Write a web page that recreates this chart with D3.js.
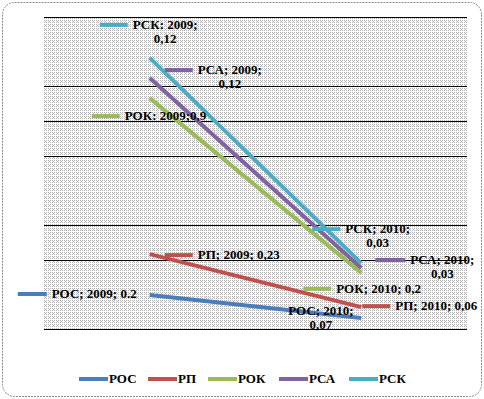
<!DOCTYPE html>
<html>
<head>
<meta charset="utf-8">
<script src="https://cdn.jsdelivr.net/npm/d3@7"></script>
<style>
  body { margin: 0; background: #fff; }
  svg { display: block; }
  text { font-family: "Liberation Serif", "DejaVu Serif", serif; font-weight: bold; font-size: 13px; fill: #000; }
</style>
</head>
<body>
<div id="chart"></div>
<script>
var w = 484;
var h = 399;

var years = ["2009", "2010"];
var seriesNames = ["РОС", "РП", "РОК", "РСА", "РСК"];
var seriesColors = ["#4a7ebb", "#c0504d", "#9bbb59", "#8064a2", "#4bacc6"];
var valuesROS = [0.98, 0.32];
var valuesRP  = [2.16, 0.63];
var valuesROK = [6.66, 1.62];
var valuesRSA = [7.24, 1.76];
var valuesRSK = [7.82, 1.90];
var gridTicks = [0, 2, 3, 5, 6, 7, 9];

// data labels: text lines per point
var labelsROS = [["РОС; 2009; 0.2"], ["РОС; 2010;", "0,07"]];
var labelsRP  = [["РП; 2009; 0,23"], ["РП; 2010; 0,06"]];
var labelsROK = [["РОК: 2009;0,9"], ["РОК; 2010; 0,2"]];
var labelsRSA = [["РСА; 2009;", "0,12"], ["РСА; 2010;", "0,03"]];
var labelsRSK = [["РСК: 2009;", "0,12"], ["РСК; 2010;", "0,03"]];

// label placement relative to the point: leader start dx, dy, leader length
var placeROS = [[-132, -1, 29], [-78, -7, 0]];
var placeRP  = [[15, 1, 28], [1, -1, 28]];
var placeROK = [[-58, 18, 28], [-58, 16, 28]];
var placeRSA = [[15, -8, 28], [14, -8, 30]];
var placeRSK = [[-50, -33, 28], [-49, -34, 28]];

var allValues = [valuesROS, valuesRP, valuesROK, valuesRSA, valuesRSK];
var allLabels = [labelsROS, labelsRP, labelsROK, labelsRSA, labelsRSK];
var allPlace = [placeROS, placeRP, placeROK, placeRSA, placeRSK];

var series = seriesNames.map(function(n, i) {
  return {name: n, color: seriesColors[i], values: allValues[i], labels: allLabels[i], place: allPlace[i]};
});

var svg = d3.select("#chart").append("svg")
  .attr("width", w)
  .attr("height", h);

var defs = svg.append("defs");
var pat = defs.append("pattern")
  .attr("id", "dots")
  .attr("width", 4).attr("height", 4)
  .attr("patternUnits", "userSpaceOnUse");
pat.append("rect").attr("width", 4).attr("height", 4).attr("fill", "#fff");
[[0, 0], [2, 0], [1, 1], [0, 2], [2, 2]].forEach(function(c) {
  pat.append("rect").attr("x", c[0]).attr("y", c[1])
    .attr("width", 1).attr("height", 1).attr("fill", "#b4b4b4");
});

// outer frame
svg.append("rect")
  .attr("x", 2.5).attr("y", 2.5)
  .attr("width", w - 5).attr("height", h - 5)
  .attr("rx", 12)
  .attr("fill", "#fff")
  .attr("stroke", "#8c8c8c")
  .attr("stroke-dasharray", "2,1");

var x = d3.scalePoint().domain(years).range([44, 467]).padding(0.5);
var y = d3.scaleLinear().domain([0, 9]).range([329, 17]);

svg.append("rect")
  .attr("x", 44).attr("y", 17)
  .attr("width", 423).attr("height", 312)
  .attr("fill", "url(#dots)");

svg.append("g")
  .selectAll("line")
  .data(gridTicks)
  .enter()
  .append("line")
  .attr("x1", 44).attr("x2", 467)
  .attr("y1", function(d) { return Math.round(y(d)) + 0.5; })
  .attr("y2", function(d) { return Math.round(y(d)) + 0.5; })
  .attr("stroke", "#000")
  .attr("stroke-width", 1.2);

var line = d3.line()
  .x(function(d, i) { return x(years[i]); })
  .y(function(d) { return y(d); });

svg.append("g")
  .selectAll("path")
  .data(series)
  .enter()
  .append("path")
  .attr("d", function(d) { return line(d.values); })
  .attr("fill", "none")
  .attr("stroke", function(d) { return d.color; })
  .attr("stroke-width", 4);

// data labels
series.forEach(function(s) {
  s.values.forEach(function(v, i) {
    var px = x(years[i]), py = y(v);
    var p = s.place[i];
    var lx = px + p[0], ly = py + p[1];
    if (p[2] > 0) {
      svg.append("line")
        .attr("x1", lx).attr("x2", lx + p[2])
        .attr("y1", ly).attr("y2", ly)
        .attr("stroke", s.color)
        .attr("stroke-width", 4);
    }
    var tx = lx + p[2] + 5;
    var lines = s.labels[i];
    var t = svg.append("text")
      .attr("x", tx).attr("y", ly + 4)
      .text(lines[0]);
    if (lines.length > 1) {
      var wFirst = t.node().getComputedTextLength();
      svg.append("text")
        .attr("x", tx + wFirst / 2).attr("y", ly + 18)
        .attr("text-anchor", "middle")
        .text(lines[1]);
    }
  });
});

// legend
var legendX = [79, 148, 208, 279, 349];
var lg = svg.append("g")
  .selectAll("g")
  .data(series)
  .enter()
  .append("g")
  .attr("transform", function(d, i) { return "translate(" + legendX[i] + ",379)"; });
lg.append("line")
  .attr("x1", 0).attr("x2", 29)
  .attr("stroke", function(d) { return d.color; })
  .attr("stroke-width", 4);
lg.append("text")
  .attr("x", 30).attr("y", 4)
  .text(function(d) { return d.name; });
</script>
</body>
</html>
